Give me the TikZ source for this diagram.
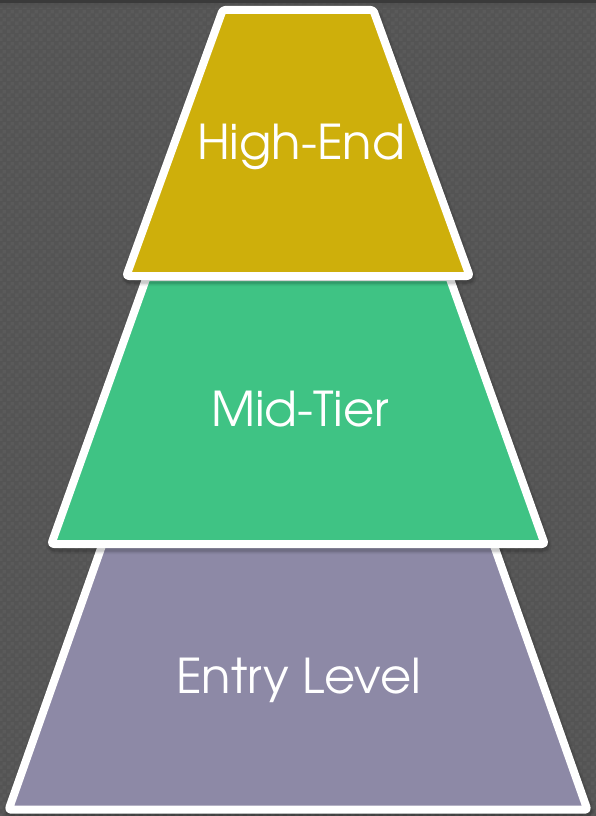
\documentclass[tikz,border=0pt]{standalone}
\usepackage{fontspec}
\setmainfont{TeX Gyre Adventor}
\usetikzlibrary{patterns}
\definecolor{bgdark}{HTML}{545454}
\definecolor{bgcheck}{HTML}{5A5A5A}
\definecolor{topbar}{HTML}{3A3A3A}
\definecolor{tierhigh}{HTML}{CEAF0B}
\definecolor{tiermid}{HTML}{3FC384}
\definecolor{tierentry}{HTML}{8D89A6}
\pgfdeclarepatternformonly{bigchecker}{\pgfpointorigin}{\pgfqpoint{8pt}{8pt}}{\pgfqpoint{8pt}{8pt}}{%
  \pgfpathrectangle{\pgfpointorigin}{\pgfqpoint{4pt}{4pt}}%
  \pgfpathrectangle{\pgfqpoint{4pt}{4pt}}{\pgfqpoint{4pt}{4pt}}%
  \pgfusepath{fill}}
\tikzset{
  tier/.style={draw=white, line width=8pt, line join=round, rounded corners=2.5pt},
  tiershadow/.style={fill=black, opacity=0.10, draw=black, line join=round, rounded corners=3pt},
  tierlabel/.style={text=white, font=\fontsize{48}{48}\selectfont, anchor=base},
}
\begin{document}
\begin{tikzpicture}[x=1pt, y=-1pt]
  % canvas with a faint checkered texture
  \fill[bgdark] (0,0) rectangle (596,816);
  \fill[pattern=bigchecker, pattern color=bgcheck] (0,0) rectangle (596,816);
  \useasboundingbox (0,0) rectangle (596,816);
  % dark strip along the top edge
  \shade[top color=black!70, bottom color=bgdark, opacity=0.6] (0,3) rectangle (596,8);
  \fill[topbar] (0,0) rectangle (596,3);

  % corner points of each tier (stroke centre lines)
  \coordinate (h1) at (222.7,10);  \coordinate (h2) at (373.3,10);
  \coordinate (h3) at (469.7,276); \coordinate (h4) at (126.3,276);
  \coordinate (m1) at (146.7,277); \coordinate (m2) at (449.3,277);
  \coordinate (m3) at (544.7,544); \coordinate (m4) at (51.3,544);
  \coordinate (e1) at (102.9,543); \coordinate (e2) at (493.1,543);
  \coordinate (e3) at (587.4,809.7); \coordinate (e4) at (8.6,809.7);

  % soft shadows, bottom tier first
  \foreach \w/\o in {14/0.05, 11/0.07, 9/0.09} {
    \draw[tiershadow, line width=\w pt, opacity=\o, fill opacity=0]
      ([shift={(1,3)}]e1) -- ([shift={(1,3)}]e2) -- ([shift={(1,3)}]e3) -- ([shift={(1,3)}]e4) -- cycle;
  }
  \draw[tier, fill=tierentry] (e1) -- (e2) -- (e3) -- (e4) -- cycle;

  \foreach \w/\o in {14/0.05, 11/0.07, 9/0.09} {
    \draw[tiershadow, line width=\w pt, opacity=\o, fill opacity=0]
      ([shift={(1,3)}]m1) -- ([shift={(1,3)}]m2) -- ([shift={(1,3)}]m3) -- ([shift={(1,3)}]m4) -- cycle;
  }
  \draw[tier, fill=tiermid] (m1) -- (m2) -- (m3) -- (m4) -- cycle;

  \foreach \w/\o in {14/0.05, 11/0.07, 9/0.09} {
    \draw[tiershadow, line width=\w pt, opacity=\o, fill opacity=0]
      ([shift={(1,3)}]h1) -- ([shift={(1,3)}]h2) -- ([shift={(1,3)}]h3) -- ([shift={(1,3)}]h4) -- cycle;
  }
  \draw[tier, fill=tierhigh] (h1) -- (h2) -- (h3) -- (h4) -- cycle;

  % tier labels
  \node[tierlabel] (high)  at (301,159)   {High-End};
  \node[tierlabel] (mid)   at (300,426) {Mid-Tier};
  \node[tierlabel] (entry) at (298.5,693)   {Entry Level};
\end{tikzpicture}
\end{document}
